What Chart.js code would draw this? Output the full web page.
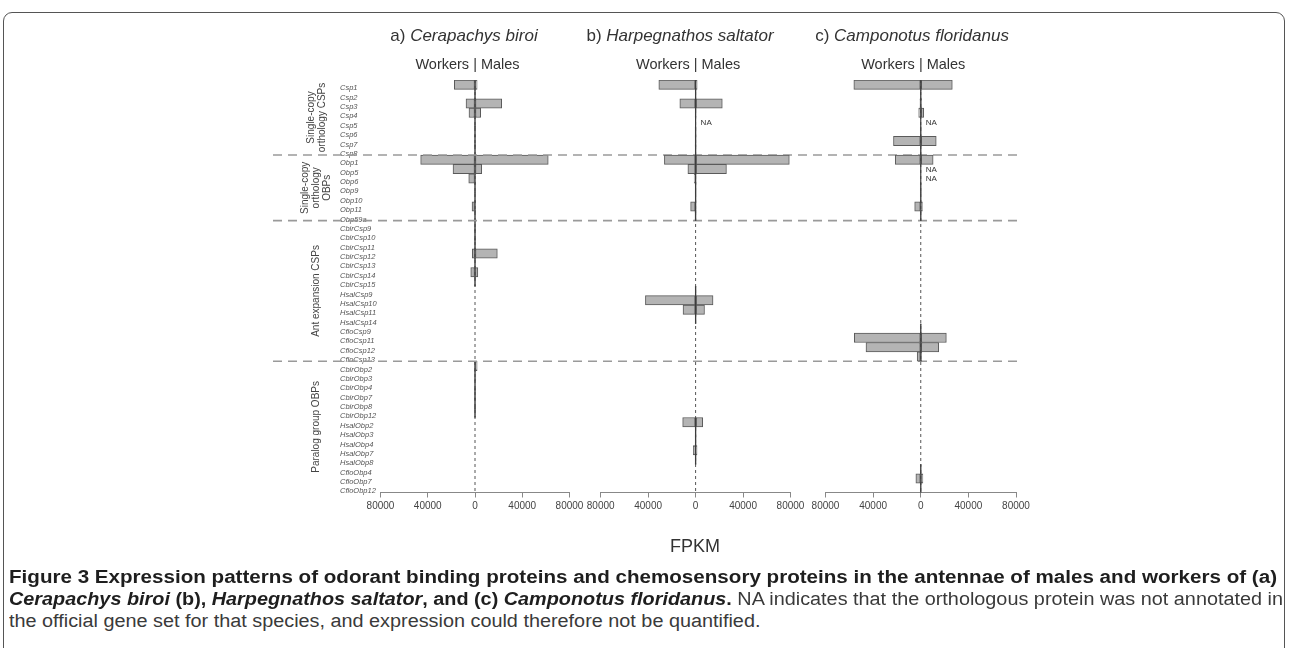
<!DOCTYPE html>
<html>
<head>
<meta charset="utf-8">
<script src="https://cdn.jsdelivr.net/npm/chart.js@4.4.1/dist/chart.umd.min.js"></script>
<style>
  html, body { margin: 0; padding: 0; background: #fff; }
  #wrap { position: relative; width: 1290px; height: 648px; overflow: hidden; background: #fff; }
  #wrap canvas { position: absolute; left: 0; top: 0; }
  #frame { position: absolute; left: 3px; top: 12px; width: 1282px; height: 720px;
           border: 1px solid #555; border-radius: 9px; box-sizing: border-box; }
  .cap { position: absolute; left: 9px; white-space: nowrap; transform-origin: 0 50%;
         font-family: 'Liberation Sans Narrow', 'Liberation Sans', Arial, sans-serif;
         font-size: 18px; line-height: 20px; color: #3a3a3a; }
  .cap b { color: #1e1e1e; }
</style>
</head>
<body>
<div id="wrap">
  <div id="frame"></div>
  <canvas id="cA" width="1290" height="560"></canvas>
  <canvas id="cB" width="1290" height="560"></canvas>
  <canvas id="cC" width="1290" height="560"></canvas>
  <div class="cap" id="cap1" style="top:567px"><b>Figure 3 Expression patterns of odorant binding proteins and chemosensory proteins in the antennae of males and workers of (a)</b></div>
  <div class="cap" id="cap2" style="top:589px"><b><i>Cerapachys biroi</i> (b), <i>Harpegnathos saltator</i>, and (c) <i>Camponotus floridanus</i>.</b> NA indicates that the orthologous protein was not annotated in</div>
  <div class="cap" id="cap3" style="top:611px">the official gene set for that species, and expression could therefore not be quantified.</div>
</div>
<script>
(function () {
  'use strict';

  // ── DATOS ────────────────────────────────────────────
  var categories = [
    'Csp1', 'Csp2', 'Csp3', 'Csp4', 'Csp5', 'Csp6', 'Csp7', 'Csp8',
    'Obp1', 'Obp5', 'Obp6', 'Obp9', 'Obp10', 'Obp11', 'Obp59a',
    'CbirCsp9', 'CbirCsp10', 'CbirCsp11', 'CbirCsp12', 'CbirCsp13', 'CbirCsp14', 'CbirCsp15',
    'HsalCsp9', 'HsalCsp10', 'HsalCsp11', 'HsalCsp14',
    'CfloCsp9', 'CfloCsp11', 'CfloCsp12', 'CfloCsp13',
    'CbirObp2', 'CbirObp3', 'CbirObp4', 'CbirObp7', 'CbirObp8', 'CbirObp12',
    'HsalObp2', 'HsalObp3', 'HsalObp4', 'HsalObp7', 'HsalObp8',
    'CfloObp4', 'CfloObp7', 'CfloObp12'
  ];

  var groupNames = [['Single-copy', 'orthology CSPs'], ['Single-copy', 'orthology', 'OBPs'],
                    ['Ant expansion CSPs'], ['Paralog group OBPs']];
  var groupFirst = ['Csp1', 'Obp1', 'CbirCsp9', 'CbirObp2'];
  var groupLast  = ['Csp8', 'Obp59a', 'CfloCsp13', 'CfloObp12'];

  var xTicks = [-80000, -40000, 0, 40000, 80000];

  var panelLetters = ['a) ', 'b) ', 'c) '];
  var species = ['Cerapachys biroi', 'Harpegnathos saltator', 'Camponotus floridanus'];

  // FPKM, null = gene not in this species
  var workersA = [
    17500, 300, 7600, 5100, 200, 200, 200, 200,
    46000, 18600, 5300, 200, 200, 2500, 300,
    100, 100, 100, 2300, 200, 3600, 300,
    null, null, null, null,
    null, null, null, null,
    600, 500, 400, 100, 100, 100,
    null, null, null, null, null,
    null, null, null
  ];
  var malesA = [
    1800, 200, 22600, 4800, 100, 100, 100, 100,
    62000, 5700, 200, 100, 100, 300, 200,
    100, 100, 100, 18900, 200, 2400, 200,
    null, null, null, null,
    null, null, null, null,
    1800, 700, 500, 100, 100, 100,
    null, null, null, null, null,
    null, null, null
  ];
  var workersB = [
    31000, 300, 13300, 300, null, 200, 200, 200,
    26300, 6500, 1200, 200, 200, 4200, 600,
    null, null, null, null, null, null, null,
    200, 42300, 10600, 200,
    null, null, null, null,
    null, null, null, null, null, null,
    10900, 200, 200, 1900, 200,
    null, null, null
  ];
  var malesB = [
    1300, 200, 22500, 200, null, 100, 100, 100,
    79000, 26000, 200, 100, 100, 200, 300,
    null, null, null, null, null, null, null,
    100, 14700, 7500, 100,
    null, null, null, null,
    null, null, null, null, null, null,
    6000, 100, 100, 1200, 100,
    null, null, null
  ];
  var workersC = [
    56200, 300, 700, 1700, null, 200, 22900, 200,
    21400, null, null, 200, 200, 5100, 300,
    null, null, null, null, null, null, null,
    null, null, null, null,
    200, 55800, 46000, 3000,
    null, null, null, null, null, null,
    null, null, null, null, null,
    200, 4100, 200
  ];
  var malesC = [
    26500, 200, 700, 2500, null, 100, 13000, 100,
    10400, null, null, 100, 100, 1400, 200,
    null, null, null, null, null, null, null,
    null, null, null, null,
    100, 21500, 15100, 800,
    null, null, null, null, null, null,
    null, null, null, null, null,
    100, 1800, 100
  ];
  var naA = [];
  var naB = ['Csp5'];
  var naC = ['Csp5', 'Obp5', 'Obp6'];

  // ── UTILIDADES ───────────────────────────────────────
  var SANS = "'Liberation Sans', Arial, sans-serif";
  Chart.defaults.font.family = SANS;
  Chart.defaults.color = '#444';

  function half(ys) { return (ys.getPixelForValue(1) - ys.getPixelForValue(0)) / 2; }

  // zero line, NA marks and panel headings
  var panelDecor = {
    id: 'panelDecor',
    afterDatasetsDraw: function (chart, args, o) {
      var ctx = chart.ctx, xs = chart.scales.x, ys = chart.scales.y, area = chart.chartArea;
      var x0 = xs.getPixelForValue(0), h = half(ys);
      ctx.save();

      ctx.strokeStyle = '#555'; ctx.lineWidth = 1; ctx.setLineDash([3, 3]);
      ctx.beginPath(); ctx.moveTo(x0, area.top); ctx.lineTo(x0, area.bottom); ctx.stroke();

      // solid where the species has the gene
      ctx.setLineDash([]); ctx.strokeStyle = '#3c3c3c'; ctx.lineWidth = 1.2;
      var start = null;
      for (var i = 0; i <= categories.length; i++) {
        var has = i < categories.length && (o.workers[i] !== null || o.na.indexOf(categories[i]) >= 0);
        if (has && start === null) start = i;
        if (!has && start !== null) {
          ctx.beginPath();
          ctx.moveTo(x0, ys.getPixelForValue(start) - h);
          ctx.lineTo(x0, ys.getPixelForValue(i - 1) + h);
          ctx.stroke();
          start = null;
        }
      }

      ctx.fillStyle = '#333'; ctx.font = '8px ' + SANS;
      ctx.textAlign = 'left'; ctx.textBaseline = 'middle';
      o.na.forEach(function (c) {
        ctx.fillText('NA', x0 + 5, ys.getPixelForValue(categories.indexOf(c)) + 0.5);
      });

      // title: letter upright, species italic
      ctx.fillStyle = '#333'; ctx.textBaseline = 'middle';
      ctx.font = '17px ' + SANS;
      var w1 = ctx.measureText(o.letter).width;
      ctx.font = 'italic 17px ' + SANS;
      var w2 = ctx.measureText(o.species).width;
      var tx = x0 + o.titleDx - (w1 + w2) / 2;
      ctx.font = '17px ' + SANS; ctx.fillText(o.letter, tx, 36);
      ctx.font = 'italic 17px ' + SANS; ctx.fillText(o.species, tx + w1, 36);

      ctx.font = '14.5px ' + SANS; ctx.textAlign = 'center';
      ctx.fillText('Workers | Males', x0 - 7.5, 65);
      ctx.restore();
    }
  };

  // separators, group labels, FPKM (first panel only)
  var frameDecor = {
    id: 'frameDecor',
    afterDatasetsDraw: function (chart) {
      var ctx = chart.ctx, ys = chart.scales.y, h = half(ys);
      ctx.save();
      ctx.strokeStyle = '#9a9a9a'; ctx.lineWidth = 1.6; ctx.setLineDash([9, 6]);
      for (var g = 0; g < groupLast.length - 1; g++) {
        var y = ys.getPixelForValue(categories.indexOf(groupLast[g])) + h;
        ctx.beginPath(); ctx.moveTo(273, y); ctx.lineTo(1021, y); ctx.stroke();
      }
      ctx.setLineDash([]);

      ctx.fillStyle = '#444'; ctx.font = '10px ' + SANS;
      ctx.textAlign = 'center'; ctx.textBaseline = 'middle';
      groupNames.forEach(function (lines, g) {
        var y1 = ys.getPixelForValue(categories.indexOf(groupFirst[g])) - h;
        var y2 = ys.getPixelForValue(categories.indexOf(groupLast[g])) + h;
        var cy = (y1 + y2) / 2;
        ctx.save();
        ctx.translate(316.5, cy);
        ctx.rotate(-Math.PI / 2);
        lines.forEach(function (t, k) {
          ctx.fillText(t, 0, (k - (lines.length - 1) / 2) * 11);
        });
        ctx.restore();
      });

      ctx.fillStyle = '#333'; ctx.font = '18px ' + SANS;
      ctx.fillText('FPKM', 695, 547);
      ctx.restore();
    }
  };

  function neg(arr) { return arr.map(function (v) { return v === null ? null : -v; }); }

  function makePanel(id, p) {
    var barStyle = {
      backgroundColor: '#b4b4b4', borderColor: '#5a5a5a', borderWidth: 1,
      borderSkipped: false, barPercentage: 1, categoryPercentage: 1, stack: 's'
    };
    var yAxis = {
      type: 'category', stacked: true, display: p.showY,
      grid: { display: false }, border: { display: false },
      ticks: {
        autoSkip: false, crossAlign: 'far', padding: 0, labelOffset: 3.5,
        color: '#555', font: { size: 7.5, style: 'italic' }
      },
      afterFit: function (s) { s.width = p.yWidth; }
    };
    return new Chart(document.getElementById(id).getContext('2d'), {
      type: 'bar',
      data: {
        labels: categories,
        datasets: [
          Object.assign({ label: 'Workers', data: neg(p.workers) }, barStyle),
          Object.assign({ label: 'Males', data: p.males }, barStyle)
        ]
      },
      options: {
        indexAxis: 'y',
        responsive: false,
        animation: false,
        devicePixelRatio: 1,
        layout: { padding: { left: p.left, right: p.right, top: 80, bottom: 37.5 } },
        plugins: {
          legend: { display: false },
          tooltip: { enabled: false },
          panelDecor: { workers: p.workers, na: p.na, letter: p.letter, species: p.species, titleDx: p.titleDx }
        },
        scales: {
          x: {
            type: 'linear', stacked: true, min: -80000, max: 80000,
            afterBuildTicks: function (s) { s.ticks = xTicks.map(function (v) { return { value: v }; }); },
            grid: { drawOnChartArea: false, drawTicks: true, tickLength: 5, color: '#888' },
            border: { display: true, color: '#888', width: 1 },
            ticks: {
              padding: 3, color: '#444', font: { size: 10 }, maxRotation: 0,
              callback: function (v) { return String(Math.abs(v)); }
            },
            afterFit: function (s) { s.height = 30; }
          },
          y: yAxis
        }
      },
      plugins: p.extra ? [panelDecor, frameDecor] : [panelDecor]
    });
  }

  makePanel('cA', { workers: workersA, males: malesA, na: naA, letter: panelLetters[0], species: species[0],
                    showY: true, yWidth: 40.5, left: 340, right: 720.5, titleDx: -11, extra: true });
  makePanel('cB', { workers: workersB, males: malesB, na: naB, letter: panelLetters[1], species: species[1],
                    showY: false, yWidth: 0, left: 600.7, right: 499.5, titleDx: -15.6 });
  makePanel('cC', { workers: workersC, males: malesC, na: naC, letter: panelLetters[2], species: species[2],
                    showY: false, yWidth: 0, left: 825.5, right: 274, titleDx: -8.7 });

  // ── CAPTION WIDTHS ───────────────────────────────────
  function fit(id, target) {
    var el = document.getElementById(id);
    var k = target / el.getBoundingClientRect().width;
    el.style.transform = 'scaleX(' + k + ')';
    return k;
  }
  fit('cap1', 1268);
  var k2 = fit('cap2', 1274);
  document.getElementById('cap3').style.transform = 'scaleX(' + k2 + ')';
})();
</script>
</body>
</html>
